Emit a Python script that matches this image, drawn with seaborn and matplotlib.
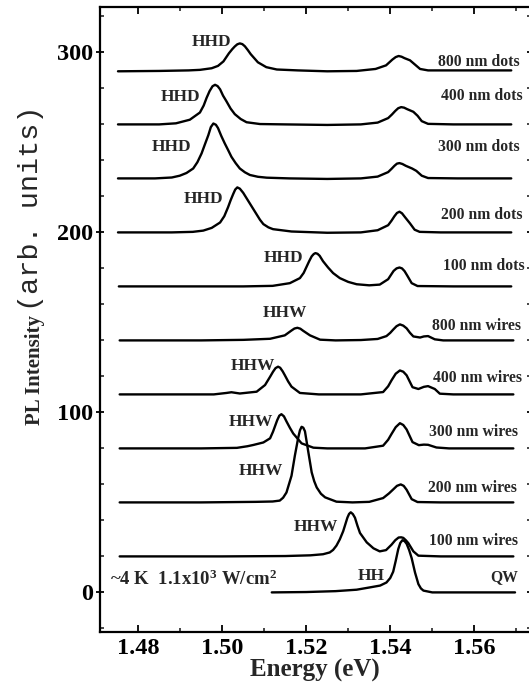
import matplotlib
matplotlib.use("Agg")
import matplotlib.pyplot as plt
from matplotlib.ticker import MultipleLocator, FixedLocator
import seaborn as sns
import pandas as pd

sns.set_theme(style="ticks")
plt.rcParams["font.family"] = ["Liberation Serif", "DejaVu Serif"]
plt.rcParams["font.weight"] = "bold"
plt.rcParams["mathtext.fontset"] = "custom"
plt.rcParams["mathtext.rm"] = "Liberation Serif:bold"
plt.rcParams["mathtext.it"] = "Liberation Serif:bold"
plt.rcParams["mathtext.bf"] = "Liberation Serif:bold"

# ---------------- data (energy in eV, intensity above each trace's baseline) -------------
sample_names = ["800 nm dots", "400 nm dots", "300 nm dots", "200 nm dots", "100 nm dots",
                "800 nm wires", "400 nm wires", "300 nm wires", "200 nm wires", "100 nm wires", "QW"]
offsets = [290, 260, 230, 200, 170, 140, 110, 80, 50, 20, 0]

dots800_e = [1.4752, 1.485, 1.492, 1.4947, 1.4975, 1.4990, 1.5003, 1.5016, 1.5024, 1.5030,
             1.5036, 1.5042, 1.5048, 1.5054, 1.5061, 1.5068, 1.5085, 1.5105, 1.5130, 1.5180,
             1.5250, 1.5320, 1.5365, 1.5390, 1.5398, 1.5405, 1.5413, 1.5420, 1.5427, 1.5434,
             1.5447, 1.5459, 1.5471, 1.5490, 1.5580, 1.5688]
dots800_i = [-0.5, -0.3, 0, 0.3, 1.2, 2.5, 5, 9.5, 11.8, 13.3,
             14.5, 15, 14.6, 13.4, 11.3, 9, 4.5, 1.8, 0.5, 0,
             -0.5, -0.3, 0.8, 2.8, 4.5, 6, 7.4, 8, 7.6, 6.8,
             5.6, 3.2, 0.8, 0, 0, 0]

dots400_e = [1.4752, 1.4850, 1.4890, 1.4923, 1.4947, 1.4956, 1.4963, 1.4970, 1.4977, 1.4983,
             1.4989, 1.4995, 1.5002, 1.5010, 1.5020, 1.5030, 1.5044, 1.5058, 1.5090, 1.5150,
             1.5250, 1.5330, 1.5370, 1.5395, 1.5404, 1.5412, 1.5419, 1.5426, 1.5433, 1.5440,
             1.5455, 1.5465, 1.5475, 1.5490, 1.5550, 1.5688]
dots400_i = [0, 0, 0.6, 2.6, 6.6, 10.5, 14.8, 18.5, 21.2, 22,
             21.3, 19.5, 16, 12.9, 8.8, 5.7, 3, 1.2, 0.2, 0,
             -0.3, 0, 1.0, 3.5, 5.5, 7.5, 9, 9.6, 9.3, 8.5,
             7, 4.8, 1.8, 0.3, 0, 0]

dots300_e = [1.4752, 1.4840, 1.4880, 1.4899, 1.4915, 1.4931, 1.4941, 1.4951, 1.4959, 1.4967,
             1.4973, 1.4979, 1.4985, 1.4990, 1.4998, 1.5006, 1.5014, 1.5022, 1.5032, 1.5042,
             1.5054, 1.5066, 1.5085, 1.5106, 1.5160, 1.5250, 1.5330, 1.5370, 1.5395, 1.5403,
             1.5410, 1.5416, 1.5422, 1.5429, 1.5437, 1.5452, 1.5462, 1.5475, 1.5490, 1.5560,
             1.5688]
dots300_i = [0, 0, 0.5, 1.5, 3, 5.5, 9, 13.9, 19, 24,
             28.5, 30.5, 29.8, 28, 23.5, 19.5, 15.8, 12, 8.5, 5.5,
             3.4, 1.9, 0.9, 0.4, 0, -0.3, 0, 1.0, 3.5, 5.3,
             7, 8.2, 8.5, 8, 7, 5.5, 4.2, 1.5, 0.2, 0,
             0]

dots200_e = [1.4752, 1.4880, 1.4930, 1.4955, 1.4975, 1.4995, 1.5005, 1.5014, 1.5020, 1.5026,
             1.5031, 1.5036, 1.5042, 1.5050, 1.5058, 1.5066, 1.5074, 1.5082, 1.5090, 1.5098,
             1.5110, 1.5121, 1.5165, 1.5250, 1.5330, 1.5370, 1.5395, 1.5403, 1.5410, 1.5416,
             1.5422, 1.5428, 1.5435, 1.5447, 1.5458, 1.5470, 1.5520, 1.5688]
dots200_i = [0, 0, 0.3, 1, 2.5, 5.5, 9, 14, 17.8, 21.2,
             23.8, 25, 24.3, 22, 19, 16, 13, 10, 7, 4.6,
             2.8, 1.8, 0.5, -0.2, 0, 1.2, 4, 6.5, 9, 10.8,
             11.5, 10.6, 8.5, 5, 1.5, 0.3, 0, 0]

dots100_e = [1.4754, 1.4900, 1.5050, 1.5120, 1.5161, 1.5185, 1.5194, 1.5201, 1.5207, 1.5213,
             1.5218, 1.5222, 1.5227, 1.5232, 1.5240, 1.5252, 1.5264, 1.5280, 1.5300, 1.5320,
             1.5350, 1.5375, 1.5395, 1.5402, 1.5408, 1.5415, 1.5422, 1.5428, 1.5434, 1.5440,
             1.5451, 1.5465, 1.5550, 1.5688]
dots100_i = [0, 0, 0, 0.3, 1.8, 4.6, 7.5, 11, 14, 16.7,
             18, 18.5, 18.1, 17, 14, 10.5, 7.4, 4.6, 2.5, 1.2,
             0.6, 1, 4, 6.5, 8.6, 10, 10.5, 10, 8.5, 6.2,
             1.8, 0.2, 0, 0]

wires800_e = [1.4756, 1.4950, 1.5050, 1.5114, 1.5149, 1.5165, 1.5172, 1.5179, 1.5186, 1.5193,
              1.5209, 1.5233, 1.5270, 1.5330, 1.5370, 1.5391, 1.5400, 1.5407, 1.5415, 1.5423,
              1.5431, 1.5439, 1.5447, 1.5455, 1.5471, 1.5480, 1.5490, 1.5506, 1.5526, 1.5693]
wires800_i = [0, 0, 0.3, 0.9, 2.8, 5.5, 6.6, 7, 6.5, 5.3,
              2.8, 0.4, 0, 0.2, 0.8, 2.4, 4.2, 6, 7.9, 8.9,
              8.2, 6.7, 4.2, 2.2, 1.6, 2.2, 2.4, 0.6, 0, 0]

wires400_e = [1.4756, 1.4900, 1.4980, 1.5010, 1.5022, 1.5042, 1.5082, 1.5102, 1.5114, 1.5121,
              1.5127, 1.5133, 1.5138, 1.5144, 1.5149, 1.5157, 1.5165, 1.5185, 1.5230, 1.5330,
              1.5383, 1.5395, 1.5403, 1.5413, 1.5423, 1.5431, 1.5439, 1.5453, 1.5467, 1.5480,
              1.5490, 1.5506, 1.5518, 1.5550, 1.5693]
wires400_i = [0, 0, 0, 0.8, 1.2, 0.5, 1.5, 5.2, 9.8, 12.6,
              14.6, 15.4, 14.8, 12.8, 10.7, 7.2, 4.3, 0.8, 0, 0,
              1.3, 4.5, 7.8, 11.5, 13.3, 12.6, 10.6, 4, 3, 4.2,
              4.6, 3, 0.4, 0, 0]

wires300_e = [1.4756, 1.4950, 1.5035, 1.5060, 1.5074, 1.5098, 1.5114, 1.5121, 1.5131, 1.5136,
              1.5141, 1.5147, 1.5153, 1.5161, 1.5169, 1.5189, 1.5217, 1.5250, 1.5340, 1.5383,
              1.5395, 1.5403, 1.5413, 1.5423, 1.5431, 1.5439, 1.5453, 1.5468, 1.5480, 1.5490,
              1.5510, 1.5540, 1.5693]
wires300_i = [0, 0, 0.3, 1.2, 1.9, 3.3, 5.6, 9.3, 15.7, 18.2,
              19, 17.8, 15, 11.5, 8.3, 2.8, 0.4, 0, 0, 1.5,
              4.8, 8, 11.8, 14, 13, 10.5, 3.5, 1.8, 2.1, 2,
              0.5, 0, 0]

wires200_e = [1.4756, 1.4950, 1.5080, 1.5120, 1.5137, 1.5145, 1.5153, 1.5165, 1.5173, 1.5181,
              1.5185, 1.5189, 1.5193, 1.5197, 1.5205, 1.5213, 1.5219, 1.5225, 1.5235, 1.5245,
              1.5272, 1.5310, 1.5350, 1.5383, 1.5397, 1.5407, 1.5416, 1.5425, 1.5432, 1.5439,
              1.5451, 1.5465, 1.5520, 1.5693]
wires200_i = [0, 0, 0.3, 0.5, 1, 2.6, 5.5, 14.8, 26, 36,
              40, 42, 41.5, 39.5, 28, 16.7, 11.8, 8.3, 4.8, 2.8,
              0.4, 0, 0.3, 2.4, 5, 7.2, 9.2, 10, 9.2, 7,
              1.8, 0.2, 0, 0]

wires100_e = [1.4756, 1.5000, 1.5150, 1.5210, 1.5240, 1.5256, 1.5264, 1.5272, 1.5280, 1.5288,
              1.5298, 1.5302, 1.5306, 1.5311, 1.5316, 1.5322, 1.5328, 1.5344, 1.5360, 1.5375,
              1.5390, 1.5403, 1.5412, 1.5420, 1.5426, 1.5431, 1.5437, 1.5443, 1.5455, 1.5467,
              1.5520, 1.5693]
wires100_i = [0, 0, 0.2, 0.6, 1.2, 2.2, 3.6, 6, 9.5, 14,
              21.5, 23.6, 24.5, 23.5, 21.5, 17, 13, 7.8, 4.5, 2.8,
              3.5, 6.5, 9, 10.5, 10.6, 10.3, 9, 7.4, 2.8, 0.4,
              0, 0]

qw_e = [1.5118, 1.5200, 1.5270, 1.5320, 1.5352, 1.5376, 1.5391, 1.5400, 1.5407, 1.5413,
        1.5419, 1.5424, 1.5429, 1.5434, 1.5439, 1.5445, 1.5451, 1.5459, 1.5467, 1.5473,
        1.5479, 1.5500, 1.5600, 1.5697]
qw_i = [0, 0.2, 0.7, 1.5, 2.8, 3.8, 5.5, 8, 11.5, 17.5,
        24, 27.5, 29, 28.5, 27, 23.5, 19, 11, 4.6, 2.2,
        1, 0, 0, 0]

spectra_e = [dots800_e, dots400_e, dots300_e, dots200_e, dots100_e,
             wires800_e, wires400_e, wires300_e, wires200_e, wires100_e, qw_e]
spectra_i = [dots800_i, dots400_i, dots300_i, dots200_i, dots100_i,
             wires800_i, wires400_i, wires300_i, wires200_i, wires100_i, qw_i]

# peak labels (text, energy, intensity)
peak_labels = ["HHD", "HHD", "HHD", "HHD", "HHD", "HHW", "HHW", "HHW", "HHW", "HHW", "HH"]
peak_label_e = [1.4975, 1.4901, 1.4880, 1.4955, 1.5145, 1.5149, 1.5072, 1.5068, 1.5091, 1.5222, 1.5355]
peak_label_y = [306, 275.4, 247.6, 218.4, 185.6, 155.4, 125.8, 94.8, 67.6, 36.5, 9]

# sample labels on the right (left edge energy, y)
name_label_e = [1.5514, 1.5521, 1.5514, 1.5521, 1.5525, 1.5500, 1.5502, 1.5493, 1.5491, 1.5493, 1.5638]
name_label_y = [294.7, 275.5, 247.6, 209.4, 181.2, 148, 119.3, 88.9, 58, 28.7, 8.5]

x_ticks = [1.48, 1.50, 1.52, 1.54, 1.56]
x_tick_labels = ["1.48", "1.50", "1.52", "1.54", "1.56"]
y_ticks = [0, 100, 200, 300]
y_tick_labels = ["0", "100", "200", "300"]

# ---------------- build long table ----------------
rows = []
for name, off, es, ins in zip(sample_names, offsets, spectra_e, spectra_i):
    for e, v in zip(es, ins):
        rows.append({"Energy": e, "PL": v + off, "sample": name})
df = pd.DataFrame(rows)

# ---------------- figure ----------------
W, H = 529, 685
fig = plt.figure(figsize=(W / 100, H / 100), dpi=100)
left_px, right_px, top_px, bot_px = 99.5, 531.0, 6.5, 632.0
ax = fig.add_axes([left_px / W, 1 - bot_px / H, (right_px - left_px) / W, (bot_px - top_px) / H])

sns.lineplot(data=df, x="Energy", y="PL", units="sample", estimator=None, sort=False,
             color="black", linewidth=1.7, ax=ax, legend=False,
             solid_joinstyle="round", solid_capstyle="round")

ax.set_xlim(1.4708, 1.5735)
ax.set_ylim(-22, 325.5)

for s in ax.spines.values():
    s.set_color("black")
    s.set_linewidth(1.6)

ax.xaxis.set_major_locator(FixedLocator(x_ticks))
ax.set_xticklabels(x_tick_labels)
ax.yaxis.set_major_locator(FixedLocator(y_ticks))
ax.set_yticklabels(y_tick_labels)
ax.xaxis.set_minor_locator(MultipleLocator(0.01))
ax.yaxis.set_minor_locator(MultipleLocator(20))

ax.tick_params(axis="x", which="major", direction="in", length=5, width=1.3, top=True, bottom=True,
               pad=4, labelsize=17.5, colors="black")
ax.tick_params(axis="x", which="minor", direction="in", length=3, width=1.2, top=True, bottom=True)
ax.tick_params(axis="y", which="major", direction="inout", length=6, width=1.3, left=True, right=True,
               pad=1.5, labelsize=17.5, colors="black")
ax.tick_params(axis="y", which="minor", direction="in", length=3, width=1.2, left=True, right=True)
for lab in ax.get_xticklabels() + ax.get_yticklabels():
    lab.set_fontweight("bold")

ax.set_xlabel("Energy (eV)", fontsize=18, fontweight="bold", labelpad=0)
ax.set_ylabel("")

for t, e, y in zip(peak_labels, peak_label_e, peak_label_y):
    ax.text(e, y, t, ha="center", va="center", fontsize=12.5, fontweight="bold")
for t, e, y in zip(sample_names, name_label_e, name_label_y):
    ax.text(e, y, t, ha="left", va="center", fontsize=11.3, fontweight="bold")

ax.text(1.4733, 4, "~4 K  1.1x10$^{3}$ W/cm$^{2}$", ha="left", va="baseline", fontsize=13.5,
        fontweight="bold")

# y label: bold part + regular part
t1 = fig.text(45 / W, 1 - 425 / H, "PL Intensity", rotation=90, ha="right", va="bottom",
              fontsize=15, fontweight="bold")
fig.canvas.draw()
bb = t1.get_window_extent()
t2 = fig.text(44 / W, (bb.y1 + 4) / H, "(arb. units)", rotation=90, ha="right", va="bottom",
              fontsize=20.5, fontweight="normal", family=["Liberation Mono", "DejaVu Sans Mono"])

fig.savefig("out.png", dpi=100, facecolor="white")
